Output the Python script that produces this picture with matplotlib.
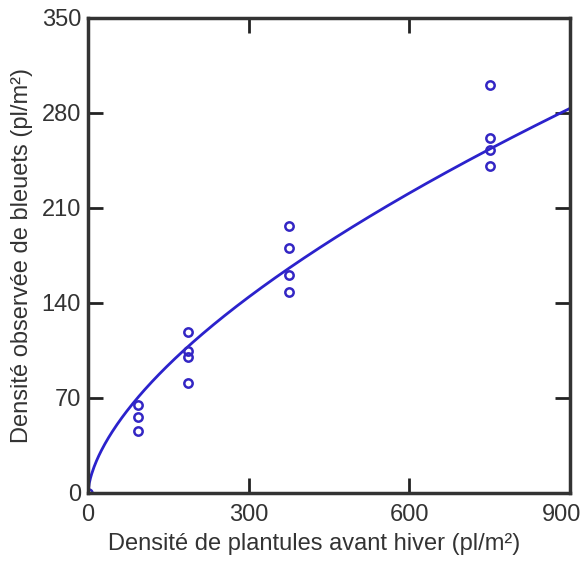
import numpy as np
import matplotlib.pyplot as plt
import matplotlib.transforms as mtransforms

# Données observées
plantules = [0, 93.75, 93.75, 93.75, 187.5, 187.5, 187.5, 187.5,
             375, 375, 375, 375, 750, 750, 750, 750]
bleuets = [0, 64.8, 56.2, 45.9, 118.9, 104.9, 100.4, 80.8,
           196.8, 180.3, 160.6, 148.3, 300.7, 261.4, 252.8, 241.2]

# Modèle ajusté : y = a * x^b
a_fit = 4.35
b_fit = 0.614

xticks = [0, 300, 600, 900]
yticks = [0, 70, 140, 210, 280, 350]

plt.rcParams['font.family'] = ['Liberation Sans', 'DejaVu Sans']

fig = plt.figure(figsize=(5.87, 5.62), dpi=100)
ax = fig.add_axes([0.15, 0.1228, 0.821, 0.8452])

x_model = np.linspace(0, 900, 400)
y_model = a_fit * x_model ** b_fit
ax.plot(x_model, y_model, color='#2b22cc', linewidth=2)
ax.plot(plantules, bleuets, 'o', markersize=6, markerfacecolor='none',
        markeredgecolor='#3326c4', markeredgewidth=1.8)

ax.set_xlim(0, 900)
ax.set_ylim(0, 350)
ax.set_xticks(xticks)
ax.set_yticks(yticks)
ax.tick_params(direction='in', length=11, width=2, top=True, right=True,
               labelsize=17, colors='#222222', labelcolor='#333333')
ax.tick_params(axis='x', pad=8)
ax.tick_params(axis='y', pad=5)
for s in ax.spines.values():
    s.set_linewidth(2.5)
    s.set_color('#333333')

# décaler un peu le dernier label pour qu'il reste dans l'image
last = ax.get_xticklabels()[-1]
last.set_transform(last.get_transform() +
                   mtransforms.ScaledTranslation(-6 / 72, 0, fig.dpi_scale_trans))

ax.set_xlabel('Densité de plantules avant hiver (pl/m²)', fontsize=17,
              color='#333333', labelpad=6)
ax.xaxis.set_label_coords(0.47, -0.085)
ax.set_ylabel('Densité observée de bleuets (pl/m²)', fontsize=17,
              color='#333333', labelpad=6)

fig.savefig('out.png', dpi=100)
